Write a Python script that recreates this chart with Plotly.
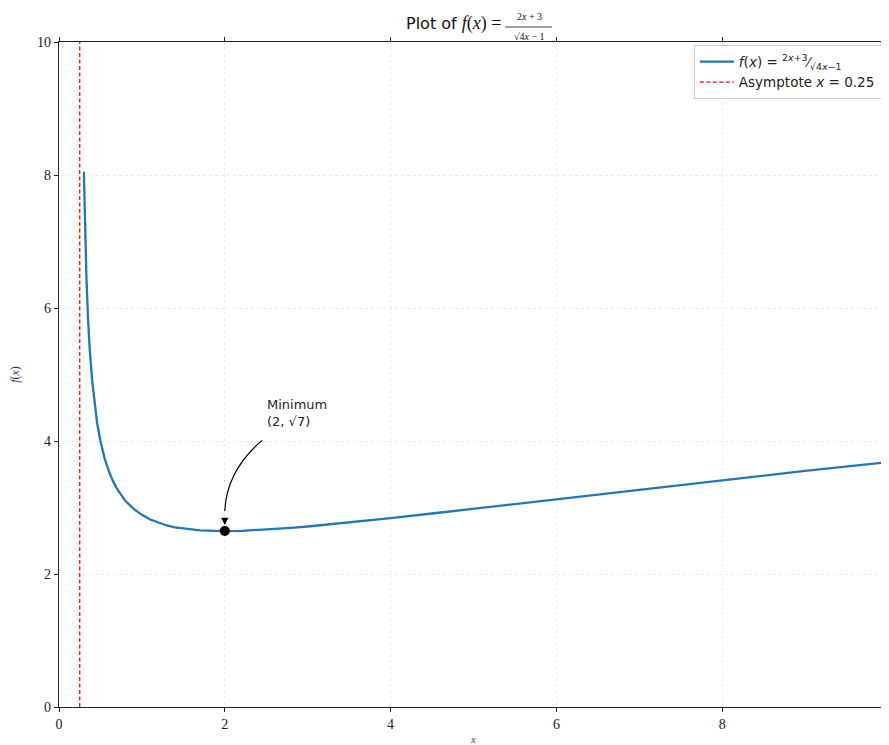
import plotly.graph_objects as go

# ---- data ----
curve_x = [0.30, 0.31, 0.32, 0.33, 0.35, 0.37, 0.40, 0.43, 0.46, 0.50, 0.55, 0.60, 0.65, 0.70,
           0.80, 0.90, 1.0, 1.1, 1.2, 1.3, 1.4, 1.5, 1.6, 1.7, 1.8, 1.9, 2.0, 2.2, 2.5, 2.8,
           3.0, 3.5, 4.0, 4.5, 5.0, 6.0, 7.0, 8.0, 9.0, 10.0]
curve_y = [8.05, 7.38, 6.88, 6.49, 5.85, 5.39, 4.91, 4.55, 4.27, 4.00, 3.74, 3.55, 3.40, 3.28,
           3.10, 2.98, 2.89, 2.82, 2.77, 2.73, 2.70, 2.68, 2.67, 2.656, 2.650, 2.647, 2.646,
           2.649, 2.667, 2.694, 2.714, 2.774, 2.840, 2.910, 2.982, 3.128, 3.272, 3.413, 3.550, 3.683]
asymptote_x = [0.25, 0.25]
asymptote_y = [0, 10]
min_x = [2.0]
min_y = [2.6458]
x_ticks = [0, 2, 4, 6, 8, 10]
y_ticks = [0, 2, 4, 6, 8, 10]

SERIF = "Liberation Serif, DejaVu Serif, serif"
SANS = "DejaVu Sans, sans-serif"

OFF = 8  # page body margin
W, H = 889 - OFF, 745 - OFF
L, R, T, B = 59 - OFF, 1, 42 - OFF, 38
PW, PH = W - L - R, H - T - B


def px(x):
    return (x - OFF - L) / PW


def py(y):
    return (H - B - (y - OFF)) / PH


fig = go.Figure()
fig.add_trace(go.Scatter(
    x=curve_x, y=curve_y, mode="lines", line=dict(color="#1f77b4", width=2.3),
    name="<i>f</i>(<i>x</i>) = <sup>2<i>x</i>+3</sup>⁄<sub>√4<i>x</i>−1</sub>"))
fig.add_trace(go.Scatter(
    x=asymptote_x, y=asymptote_y, mode="lines", line=dict(color="red", width=1.3, dash="4px,2.5px"),
    name="Asymptote <i>x</i> = 0.25<sub> </sub>"))
fig.add_trace(go.Scatter(
    x=min_x, y=min_y, mode="markers", marker=dict(color="black", size=10), showlegend=False))

# curved arrow to the minimum
tail_y = min_y[0] + 0.30
fig.add_shape(type="path", xref="x", yref="y",
              path=f"M 2.45,4.01 Q 2.02,3.55 {min_x[0]},{tail_y}",
              line=dict(color="black", width=1.2))
fig.add_annotation(x=min_x[0], y=min_y[0], ax=0, ay=-20, axref="pixel", ayref="pixel",
                   text=" ", showarrow=True, arrowhead=2, arrowsize=1.2, arrowwidth=1.2,
                   arrowcolor="black", standoff=6)
fig.add_annotation(x=2.49, y=4.42, xanchor="left", yanchor="middle", showarrow=False, align="left",
                   text="Minimum<br>(2, √7)",
                   font=dict(family=SANS, size=13, color="#222"))

# title built from pieces to mimic the stacked fraction
fig.add_annotation(xref="paper", yref="paper", x=px(503), y=py(24),
                   xanchor="right", yanchor="middle", showarrow=False,
                   text="Plot of <span style='font-family:Liberation Serif;font-size:18px'><i>f</i>(<i>x</i>) =</span>",
                   font=dict(family=SANS, size=16, color="#111"))
fig.add_annotation(xref="paper", yref="paper", x=px(529), y=py(17),
                   xanchor="center", yanchor="middle", showarrow=False,
                   text="2<i>x</i> + 3", font=dict(family=SERIF, size=10, color="#111"))
fig.add_annotation(xref="paper", yref="paper", x=px(529), y=py(36),
                   xanchor="center", yanchor="middle", showarrow=False,
                   text="√4<i>x</i> − 1", font=dict(family=SERIF, size=10, color="#111"))
fig.add_shape(type="line", xref="paper", yref="paper",
              x0=px(505), x1=px(552), y0=py(27), y1=py(27),
              line=dict(color="#111", width=0.8))

axis_common = dict(showline=True, linecolor="#222", linewidth=1.2, mirror="ticks",
                   ticks="outside", ticklen=4, tickcolor="#222",
                   showgrid=True, gridcolor="#ebebeb", griddash="dot", gridwidth=1,
                   zeroline=False, tickfont=dict(family=SERIF, size=14, color="#222"))

fig.update_xaxes(range=[0, 10], tickvals=x_ticks, **axis_common,
                 title=dict(text="<i>x</i>", font=dict(family=SERIF, size=11), standoff=4))
fig.update_yaxes(range=[0, 10], tickvals=y_ticks, **axis_common,
                 title=dict(text="<i>f</i>(<i>x</i>)", font=dict(family=SERIF, size=12), standoff=14))

fig.update_layout(
    width=W, height=H,
    margin=dict(l=L, r=R, t=T, b=B, autoexpand=False),
    paper_bgcolor="white", plot_bgcolor="white",
    legend=dict(x=0.995, y=0.995, xanchor="right", yanchor="top",
                bgcolor="rgba(255,255,255,0.9)", bordercolor="#cccccc", borderwidth=1,
                tracegroupgap=0, itemwidth=34,
                font=dict(family=SANS, size=13.5, color="#222")),
)

fig.write_html("out.html")
